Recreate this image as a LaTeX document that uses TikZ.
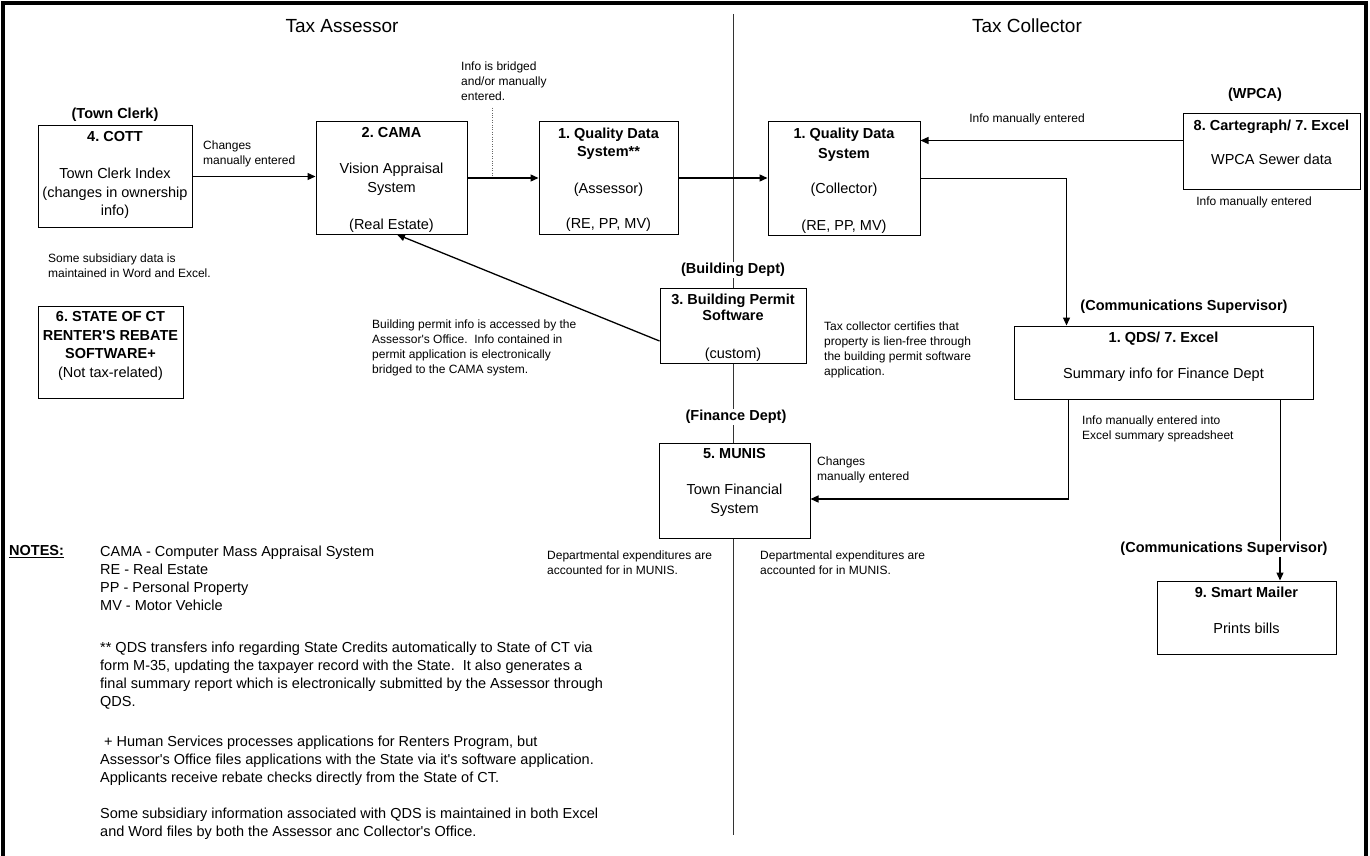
\documentclass[tikz,border=0pt]{standalone}
\usepackage{fontspec}
\setmainfont{Liberation Sans}[Ligatures=TeXOff]
\usepackage{tikz}
\usetikzlibrary{calc,arrows.meta}
\tikzstyle{sysbox}=[rectangle,draw=black,line width=1pt,fill=white,
                    inner sep=0pt,font=\fontsize{14.5}{18.5}\selectfont]
\tikzstyle{deptlabel}=[inner sep=1.5pt,font=\fontsize{14.5}{17}\selectfont\bfseries]
\tikzstyle{smallnote}=[anchor=north west,inner sep=0pt,align=left,
                       font=\fontsize{12}{15}\selectfont]
\tikzstyle{notetext}=[anchor=north west,inner sep=0pt,align=left,
                      font=\fontsize{14.5}{18}\selectfont]
\tikzstyle{sidetitle}=[font=\fontsize{19}{22}\selectfont]
\tikzstyle{flow}=[line width=1.3pt,-{Triangle[length=8pt,width=7pt]}]
\tikzstyle{plainline}=[line width=1.3pt]
\tikzstyle{divider}=[line width=0.9pt,draw=black!80]
\newcommand\boxlabel[3]{\parbox[c][#2][t]{#1}{\centering\vspace*{5.5pt}#3}}

\begin{document}
\frenchspacing
\begin{tikzpicture}[x=1pt,y=-1pt]
    \useasboundingbox (0,0) rectangle (1370,856);
    \draw[line width=4pt] (3,860) -- (3,3) -- (1366,3) -- (1366,860);

    \node[sidetitle] (assessor) at (342,26) {Tax Assessor};
    \node[sidetitle] (collector) at (1027,26) {Tax Collector};

    % departments
    \node[deptlabel] (townclerk) at (115,115) {(Town Clerk)};
    \node[deptlabel] (wpca) at (1255,95) {(WPCA)};
    \node[deptlabel] (blddept) at (733,270) {(Building Dept)};
    \node[deptlabel] (findept) at (736,417) {(Finance Dept)};
    \node[deptlabel] (commsup) at (1184,307) {(Communications Supervisor)};
    \node[deptlabel] (commsupb) at (1224,549) {(Communications Supervisor)};

    % systems
    \node[sysbox] (cott) at (115,176.5) {
        \boxlabel{154pt}{101pt}{\textbf{4. COTT}\\[18.5pt]Town Clerk Index\\(changes in ownership\\info)}
    };
    \node[sysbox] (cama) at (391.5,178) {
        \boxlabel{151pt}{112pt}{\textbf{2. CAMA}\\[17.5pt]Vision Appraisal\\System\\[18.5pt](Real Estate)}
    };
    \node[sysbox] (qdsa) at (608.5,178) {
        \boxlabel{139pt}{112pt}{\textbf{1. Quality Data}\\\textbf{System**}\\[18.5pt](Assessor)\\[16.5pt](RE, PP, MV)}
    };
    \node[sysbox] (coll) at (844,178.5) {
        \boxlabel{152pt}{113pt}{\textbf{1. Quality Data}\\[1.5pt]\textbf{System}\\[16.5pt](Collector)\\[18.5pt](RE, PP, MV)}
    };
    \node[sysbox] (carto) at (1271.5,151.5) {
        \boxlabel{177pt}{75pt}{\textbf{8. Cartegraph/ 7. Excel}\\[15.5pt]WPCA Sewer data}
    };
    \node[sysbox] (rebate) at (110.5,352) {
        \boxlabel{145pt}{92pt}{\textbf{6. STATE OF CT}\\\textbf{RENTER'S REBATE}\\\textbf{SOFTWARE+}\\(Not tax-related)}
    };
    \node[sysbox] (bpermit) at (733,325.5) {
        \boxlabel{146pt}{75pt}{\textbf{3. Building Permit}\\[-2.5pt]\textbf{Software}\\[19.5pt](custom)}
    };
    \node[sysbox] (munis) at (734.5,490.5) {
        \boxlabel{151pt}{95pt}{\textbf{5. MUNIS}\\[17.5pt]Town Financial\\System}
    };
    \node[sysbox] (summ) at (1163.5,362.5) {
        \boxlabel{299pt}{73pt}{\textbf{1. QDS/ 7. Excel}\\[17.5pt]Summary info for Finance Dept}
    };
    \node[sysbox] (mailer) at (1246.5,617.5) {
        \boxlabel{179pt}{73pt}{\textbf{9. Smart Mailer}\\[17.5pt]Prints bills}
    };

    % remarks
    \node[smallnote] (chgcott) at (203,140.5) {Changes\\manually entered};
    \node[smallnote] (subsid) at (48,253.5) {Some subsidiary data is\\maintained in Word and Excel.};
    \node[smallnote] (bridge) at (461,61.5) {Info is bridged\\and/or manually\\entered.};
    \node[smallnote] (bldnote) at (372,319.5) {Building permit info is accessed by the\\
        Assessor's Office.~ Info contained in\\permit application is electronically\\bridged to the CAMA system.};
    \node[smallnote] (taxcert) at (824,321.5) {Tax collector certifies that\\property is lien-free through\\
        the building permit software\\application.};
    \node[smallnote] (chgmunis) at (817,456.5) {Changes\\manually entered};
    \node[smallnote] (infoxl) at (1082,415.5) {Info manually entered into\\Excel summary spreadsheet};
    \node[smallnote] (deptexpa) at (547,550.5) {Departmental expenditures are\\accounted for in MUNIS.};
    \node[smallnote] (deptexpb) at (760,550.5) {Departmental expenditures are\\accounted for in MUNIS.};
    \node[smallnote,anchor=north] (infomana) at (1027,113.5) {Info manually entered};
    \node[smallnote,anchor=north] (infomanb) at (1254,196.5) {Info manually entered};

    % notes
    \node[notetext,font=\fontsize{14.5}{18}\selectfont\bfseries] (notestitle) at (9,545.5) {\underline{NOTES:}};
    \node[notetext] (notes) at (100,545.5) {CAMA - Computer Mass Appraisal System\\RE - Real Estate\\
        PP - Personal Property\\MV - Motor Vehicle\\[24pt]
        ** QDS transfers info regarding State Credits automatically to State of CT via\\
        form M-35, updating the taxpayer record with the State.~ It also generates a\\
        final summary report which is electronically submitted by the Assessor through\\
        QDS.\\[22pt]
        \ + Human Services processes applications for Renters Program, but\\
        Assessor's Office files applications with the State via it's software application.\\
        Applicants receive rebate checks directly from the State of CT.\\[18pt]
        Some subsidiary information associated with QDS is maintained in both Excel\\
        and Word files by both the Assessor anc Collector's Office.};

    % dividing line
    \coordinate (divtop) at (733,14);
    \coordinate (divbot) at (733,835);
    \draw[divider] (divtop) -- (divtop |- blddept.north);
    \draw[divider] (divtop |- blddept.south) -- (divtop |- bpermit.north);
    \draw[divider] (divtop |- bpermit.south) -- (divtop |- findept.north);
    \draw[divider] (divtop |- findept.south) -- (divtop |- munis.north);
    \draw[divider] (divtop |- munis.south) -- (divbot);

    % flows
    \draw[flow] (cott.east) -- (cott.east -| cama.west);
    \draw[flow] (cama.east) -- (cama.east -| qdsa.west);
    \draw[flow] (qdsa.east) -- (qdsa.east -| coll.west);
    \draw[flow] ([yshift=11pt]carto.west) -- ([yshift=11pt]carto.west -| coll.east);
    \draw[flow] (coll.east) -| ([xshift=53pt]summ.north west);
    \draw[flow] ([xshift=55pt]summ.south west) |- ([yshift=-8.5pt]munis.east);
    \draw[plainline] ([xshift=-33pt]summ.south east) -- ([xshift=-33pt]summ.south east |- commsupb.north);
    \draw[flow] ([xshift=33.5pt]mailer.north |- commsupb.south) -- ([xshift=33.5pt]mailer.north);
    \draw[flow] ([yshift=-15.5pt]bpermit.west) -- ([xshift=5.5pt]cama.south);
    \coordinate (dotbot) at (492,177);
    \draw[dotted,draw=black!60] ([yshift=-7pt]bridge.south -| dotbot) -- (dotbot);
\end{tikzpicture}
\end{document}
